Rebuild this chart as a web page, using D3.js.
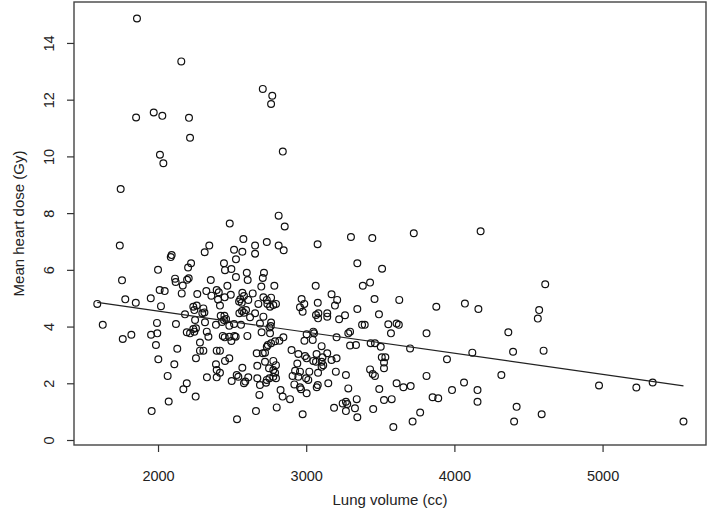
<!DOCTYPE html>
<html>
<head>
<meta charset="utf-8">
<script src="https://cdn.jsdelivr.net/npm/d3@7/dist/d3.min.js"></script>
<style>
  html, body { margin: 0; padding: 0; background: #fff; }
  svg { display: block; }
  text { font-family: "Liberation Sans", Arial, sans-serif; fill: #222; }
</style>
</head>
<body>
<svg id="chart" width="709" height="519"></svg>
<script>
// Lung volume (cc)
const lungVolume = [
1858,2157,1852,1971,2029,2209,2216,2013,2036,1748,2484,2576,1742,2346,2315,2513,2569,2092,2086,2526,
2223,2203,2445,2495,2452,2599,2000,2526,2207,2196,2115,2119,1757,2356,2605,2167,2468,2396,2410,2360,
2405,2450,2491,2326,2265,2160,2011,2045,1951,1779,1850,2020,1590,2418,2569,2580,2555,2547,2565,2609,
2238,2261,2306,2182,2245,2313,2299,2423,2448,2459,2445,2432,2549,2567,2580,2594,2250,2317,2391,2481,
2513,2560,2603,1627,1993,2121,1762,1820,1953,1995,2194,2216,2238,2256,2245,2329,2340,2283,2437,2450,
2481,2515,2524,2495,1986,2130,2283,2306,2396,2418,2002,2256,2110,2452,2481,2391,2569,2396,2418,2065,
2330,2396,2531,2542,2497,2580,2589,2609,2194,2171,2254,2072,1957,2533,2707,2771,2763,2842,2814,2855,
2655,2655,2734,2814,2848,3077,3302,3446,3345,3512,2715,2707,2697,2785,3064,3382,3431,2639,2711,2734,
2763,2738,2677,2796,2756,3171,3209,3194,2969,2987,2958,3078,3345,3461,3628,2778,2976,2655,2711,2621,
2688,2763,2761,2752,2756,2699,3066,3082,3142,3142,3222,3262,3080,3491,3377,3395,3554,3610,3572,3284,
3296,3003,3048,3053,3044,2988,3205,2846,2819,2790,2763,2741,2734,3104,3296,3336,3435,3464,3503,2901,
2947,2992,3003,3070,3110,3142,3171,3205,2666,2707,2722,2722,2670,2778,2796,2749,3048,3066,3104,3115,
3104,2940,2925,2958,3021,3080,2908,2947,2999,3014,2778,2790,2778,2796,2752,2734,2729,2670,2688,3200,
3268,3431,3449,3464,3525,3525,3510,3534,3610,3493,3284,3149,3078,3071,2958,2965,3003,2920,2827,2841,
2891,2684,2801,2661,2976,3188,3246,3268,3277,3341,3268,3329,3345,3452,3525,3577,3588,3726,4177,4613,
3878,4071,4162,4572,4563,3625,3812,4364,4396,4602,4121,3701,3950,4317,3812,3656,3705,3853,3891,3984,
4065,4156,4156,3769,3718,4420,4589,4403,4976,5228,5338,5546
];
// Mean heart dose (Gy)
const heartDose = [
14.86,13.35,11.37,11.55,11.43,11.36,10.66,10.06,9.76,8.85,7.63,7.09,6.86,6.86,6.62,6.71,6.64,6.52,6.45,6.37,
6.23,6.08,6.23,6.03,5.99,5.90,6.00,5.75,5.70,5.65,5.69,5.57,5.63,5.64,5.64,5.45,5.44,5.29,5.21,5.09,
4.95,5.03,5.12,5.25,5.15,5.17,5.29,5.25,5.00,4.96,4.84,4.72,4.80,4.74,5.19,5.08,4.96,4.88,4.84,4.94,
4.70,4.74,4.64,4.43,4.58,4.50,4.47,4.38,4.38,4.27,4.23,4.16,4.47,4.55,4.49,4.58,4.23,4.15,4.06,4.03,
4.09,4.06,3.67,4.06,4.13,4.09,3.56,3.71,3.71,3.76,3.80,3.76,3.91,3.94,3.82,3.82,3.64,3.44,3.67,3.62,
3.64,3.67,3.64,3.49,3.35,3.22,3.15,3.15,3.15,3.15,2.85,2.88,2.67,2.79,2.88,2.67,2.55,2.47,2.37,2.26,
2.21,2.21,2.29,2.23,2.08,2.00,2.06,2.21,2.00,1.79,1.53,1.36,1.02,0.73,12.38,12.14,11.85,10.17,7.91,7.53,
6.86,6.57,6.98,6.86,6.69,6.90,7.16,7.12,6.23,6.04,5.90,5.71,5.41,5.44,5.44,5.44,5.55,5.17,5.03,4.94,
5.02,4.80,4.80,4.80,4.70,5.14,4.94,4.74,4.97,4.80,4.68,4.84,4.62,4.97,4.94,4.76,4.52,4.47,4.35,4.33,
4.11,4.14,4.02,3.97,3.76,3.80,4.41,4.47,4.47,4.35,4.26,4.40,4.29,4.43,4.06,4.06,4.08,4.11,3.76,3.76,
3.82,3.73,3.82,3.76,3.53,3.50,3.62,3.62,3.50,3.48,3.41,3.35,3.29,3.31,3.33,3.35,3.41,3.41,3.29,3.17,
3.03,2.96,2.88,3.03,2.92,3.06,2.82,2.88,3.06,3.06,3.08,2.76,2.62,2.79,2.64,2.53,2.79,2.76,2.76,2.64,
2.58,2.70,2.44,2.41,2.41,2.37,2.26,2.23,2.18,2.12,2.47,2.37,2.23,2.18,2.18,2.12,2.02,2.18,1.94,2.41,
2.29,2.49,2.33,2.26,2.53,2.73,2.92,2.92,2.00,1.80,1.82,2.00,1.94,1.86,1.86,1.79,1.65,1.96,1.76,1.53,
1.44,1.59,1.15,1.02,0.91,1.14,1.29,1.35,1.27,1.44,1.02,1.12,0.80,1.09,1.41,1.44,0.46,7.29,7.36,5.49,
4.70,4.81,4.62,4.58,4.28,4.06,3.76,3.80,3.11,3.15,3.08,3.23,2.85,2.29,2.26,1.86,1.90,1.51,1.47,1.76,
2.03,1.76,1.35,0.97,0.65,1.17,0.91,0.65,1.92,1.85,2.03,0.65
];
// Fitted regression line
const fitIntercept = 6.031;
const fitSlope = -0.000743;

const xTicks = [2000, 3000, 4000, 5000];
const yTicks = [0, 2, 4, 6, 8, 10, 12, 14];
const xTitle = "Lung volume (cc)";
const yTitle = "Mean heart dose (Gy)";

const plot = { left: 74, right: 706, top: 2, bottom: 445 };
const svg = d3.select("#chart");

const x = d3.scaleLinear().domain([1433, 5698]).range([plot.left, plot.right]);
const y = d3.scaleLinear().domain([-0.176, 15.444]).range([plot.bottom, plot.top]);

const points = lungVolume.map((v, i) => ({ x: v, y: heartDose[i] }));

// points
svg.append("g")
  .selectAll("circle")
  .data(points)
  .join("circle")
  .attr("cx", d => x(d.x))
  .attr("cy", d => y(d.y))
  .attr("r", 3.4)
  .attr("fill", "none")
  .attr("stroke", "#111")
  .attr("stroke-width", 1.2);

// regression line over data range
const xMin = d3.min(lungVolume), xMax = d3.max(lungVolume);
const lineData = [xMin, xMax].map(v => ({ x: v, y: fitIntercept + fitSlope * v }));
svg.append("path")
  .datum(lineData)
  .attr("d", d3.line().x(d => x(d.x)).y(d => y(d.y)))
  .attr("fill", "none")
  .attr("stroke", "#222")
  .attr("stroke-width", 1.2);

// frame
svg.append("rect")
  .attr("x", plot.left).attr("y", plot.top)
  .attr("width", plot.right - plot.left).attr("height", plot.bottom - plot.top)
  .attr("fill", "none").attr("stroke", "#444").attr("stroke-width", 1.4);

const tickFont = "14.5px";
const titleFont = "15px";

// x axis
const gx = svg.append("g")
  .attr("transform", `translate(0,${plot.bottom})`)
  .call(d3.axisBottom(x).tickValues(xTicks).tickSize(7).tickPadding(19).tickFormat(d3.format("d")));
gx.select(".domain").remove();
gx.selectAll(".tick line").attr("stroke", "#333").attr("stroke-width", 1.2);
gx.selectAll(".tick text").style("font-size", tickFont).style("font-family", "'Liberation Sans', Arial, sans-serif").attr("fill", "#222");

// y axis
const gy = svg.append("g")
  .attr("transform", `translate(${plot.left},0)`)
  .call(d3.axisLeft(y).tickValues(yTicks).tickSize(7).tickFormat(d3.format("d")));
gy.select(".domain").remove();
gy.selectAll(".tick line").attr("stroke", "#333").attr("stroke-width", 1.2);
gy.selectAll(".tick text")
  .attr("x", null).attr("dy", null)
  .attr("text-anchor", "middle")
  .attr("transform", "translate(-20,0) rotate(-90)")
  .style("font-size", tickFont).style("font-family", "'Liberation Sans', Arial, sans-serif").attr("fill", "#222");

// titles
svg.append("text")
  .attr("x", (plot.left + plot.right) / 2).attr("y", 505)
  .attr("text-anchor", "middle").style("font-size", titleFont)
  .text(xTitle);
svg.append("text")
  .attr("transform", `translate(24,${(plot.top + plot.bottom) / 2}) rotate(-90)`)
  .attr("text-anchor", "middle").style("font-size", titleFont)
  .text(yTitle);
</script>
</body>
</html>
